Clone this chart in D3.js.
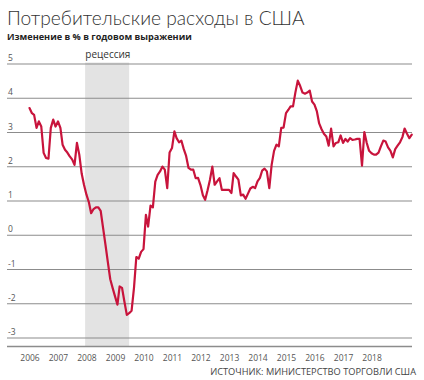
<!DOCTYPE html>
<html>
<head>
<meta charset="utf-8">
<script src="https://cdn.jsdelivr.net/npm/d3@7"></script>
<style>
  html, body { margin: 0; padding: 0; background: #fff; }
  svg { display: block; }
</style>
</head>
<body>
<svg id="chart" width="424" height="380"></svg>
<script>
// ---------- data ----------
const titleText = "Потребительские расходы в США";
const subtitleText = "Изменение в % в годовом выражении";
const sourceText = "ИСТОЧНИК: МИНИСТЕРСТВО ТОРГОВЛИ США";
const recessionLabel = "рецессия";
const recession = ["2007-12-15", "2009-07-01"];
const startMonth = "2006-01-01";
const yTicks = [5, 4, 3, 2, 1, 0, -1, -2, -3];
const years = [2006, 2007, 2008, 2009, 2010, 2011, 2012, 2013, 2014, 2015, 2016, 2017, 2018];
// monthly year-over-year % change, Jan 2006 .. Jun 2019
const values = [
  3.70, 3.55, 3.50, 3.12, 3.31, 3.16, 2.39, 2.24, 2.22, 3.12, 3.36, 3.16,
  3.31, 3.12, 2.63, 2.48, 2.40, 2.29, 2.20, 2.04, 2.68, 2.34, 1.78, 1.45,
  1.17, 0.95, 0.63, 0.75, 0.80, 0.80, 0.70, 0.20, -0.30, -0.80, -1.30, -1.55,
  -1.80, -2.04, -1.51, -1.55, -1.95, -2.34, -2.29, -2.22, -1.55, -0.65, -0.70, -0.50,
  -0.42, 0.58, 0.24, 0.85, 0.80, 1.55, 1.75, 1.85, 1.99, 1.90, 1.36, 2.40,
  2.53, 3.02, 2.82, 2.70, 2.75, 2.50, 2.30, 1.95, 1.90, 1.90, 1.65, 1.66,
  1.45, 1.15, 1.02, 1.30, 1.60, 1.99, 1.46, 1.56, 1.65, 1.31, 1.31, 1.31,
  1.31, 1.22, 1.80, 1.70, 1.61, 1.15, 1.17, 1.05, 1.20, 1.35, 1.40, 1.36,
  1.56, 1.66, 1.87, 1.93, 1.85, 1.36, 2.04, 2.45, 2.63, 2.58, 3.12, 3.13,
  3.55, 3.65, 3.75, 3.75, 4.15, 4.50, 4.35, 4.15, 4.12, 4.15, 4.21, 3.89,
  3.80, 3.60, 3.25, 3.08, 2.95, 2.87, 2.60, 3.10, 2.58, 2.68, 2.70, 2.90,
  2.68, 2.80, 2.72, 2.82, 2.77, 2.78, 2.80, 2.80, 2.02, 3.00, 2.68, 2.45,
  2.38, 2.34, 2.34, 2.40, 2.58, 2.75, 2.72, 2.55, 2.45, 2.26, 2.50, 2.60,
  2.70, 2.85, 3.10, 2.95, 2.82, 2.92
];

// ---------- build ----------
const parse = d3.timeParse("%Y-%m-%d");
const start = parse(startMonth);
const series = values.map((v, i) => ({ date: d3.timeMonth.offset(start, i), value: v }));

const svg = d3.select("#chart");
const gridLeft = 7, gridRight = 412;

const x = d3.scaleTime()
  .domain([new Date(2006, 0, 1), new Date(2019, 0, 1)])
  .range([29.5, 29.5 + 13 * 28.5]);
const y = d3.scaleLinear().domain([-3, 5]).range([337.5, 63.5]);
const axisY = 346.5;

// recession shading
svg.append("rect")
  .attr("x", x(parse(recession[0])))
  .attr("y", y(5) - 1)
  .attr("width", x(parse(recession[1])) - x(parse(recession[0])))
  .attr("height", axisY - y(5) + 1)
  .attr("fill", "#e3e3e3");

// gridlines + y labels
const yAxis = d3.axisLeft(y).tickValues(yTicks).tickSize(-(gridRight - gridLeft)).tickFormat(d => String(d));
const gy = svg.append("g").attr("transform", `translate(${gridLeft},0)`).call(yAxis);
gy.select(".domain").remove();
gy.selectAll(".tick line").attr("stroke", "#8c8c8c").attr("stroke-width", 1.2);
gy.selectAll(".tick text")
  .attr("x", 1).attr("dy", "-0.35em").attr("text-anchor", "start")
  .attr("fill", "#555").style("font-family", "'Open Sans', sans-serif").style("font-size", "8.5px");

// x axis
const xAxis = d3.axisBottom(x)
  .tickValues(years.map(yr => new Date(yr, 0, 1)))
  .tickSize(0).tickPadding(8)
  .tickFormat(d3.timeFormat("%Y"));
const gx = svg.append("g").attr("transform", `translate(0,${axisY})`).call(xAxis);
gx.select(".domain").remove();
gx.append("line").attr("x1", gridLeft).attr("x2", gridRight).attr("y1", 0).attr("y2", 0)
  .attr("stroke", "#8c8c8c").attr("stroke-width", 1.3);
gx.selectAll(".tick text").attr("fill", "#555")
  .style("font-family", "'Open Sans', sans-serif").style("font-size", "8.5px");

// line
const line = d3.line().x(d => x(d.date)).y(d => y(d.value));
svg.append("path").datum(series)
  .attr("d", line)
  .attr("fill", "none")
  .attr("stroke", "#c8143c")
  .attr("stroke-width", 2.2)
  .attr("stroke-linejoin", "round")
  .attr("stroke-linecap", "round");

// texts
function fit(sel, width) {
  const w = sel.node().getComputedTextLength();
  const fs = parseFloat(sel.style("font-size"));
  sel.style("font-size", (fs * width / w).toFixed(2) + "px");
}
const title = svg.append("text").attr("x", 7).attr("y", 25).text(titleText)
  .attr("fill", "#333").style("font-family", "Lato, 'Open Sans', sans-serif")
  .style("font-weight", 300).style("font-size", "21px");
fit(title, 298);

const sub = svg.append("text").attr("x", 7).attr("y", 40).text(subtitleText)
  .attr("fill", "#222").style("font-family", "'Open Sans', sans-serif")
  .style("font-weight", 700).style("font-size", "9.5px");
fit(sub, 185);

svg.append("text").attr("x", x(parse("2008-10-01"))).attr("y", 58).text(recessionLabel)
  .attr("text-anchor", "middle").attr("fill", "#333")
  .style("font-family", "'Open Sans', sans-serif").style("font-size", "10px");

const src = svg.append("text").attr("x", 416).attr("y", 375).text(sourceText)
  .attr("text-anchor", "end").attr("fill", "#444")
  .style("font-family", "'Liberation Sans Narrow', 'Open Sans', sans-serif")
  .style("font-size", "9px");
fit(src, 206);
</script>
</body>
</html>
